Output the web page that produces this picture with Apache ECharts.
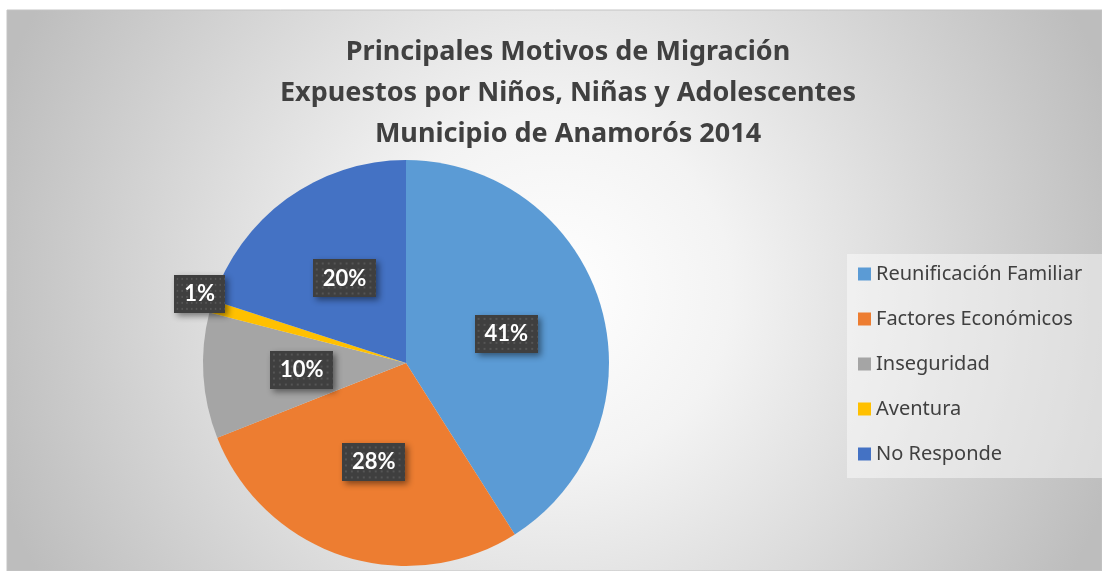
<!DOCTYPE html>
<html>
<head>
<meta charset="utf-8">
<script src="https://cdn.jsdelivr.net/npm/echarts@6/dist/echarts.min.js"></script>
<style>
  html, body { margin: 0; padding: 0; background: #fff; }
  #chart { width: 1102px; height: 571px; }
</style>
</head>
<body>
<div id="chart"></div>
<script>
const categories = ['Reunificación Familiar', 'Factores Económicos', 'Inseguridad', 'Aventura', 'No Responde'];
const values = [41, 28, 10, 1, 20];
const colors = ['#5B9BD5', '#ED7D31', '#A5A5A5', '#FFC000', '#4472C4'];
const titleText = 'Principales Motivos de Migración\nExpuestos por Niños, Niñas y Adolescentes\nMunicipio de Anamorós 2014';

// dotted dark texture for the data label boxes
function dotTexture() {
  const c = document.createElement('canvas');
  c.width = 64;
  c.height = 38;
  const ctx = c.getContext('2d');
  ctx.fillStyle = '#3f3f3f';
  ctx.fillRect(0, 0, 64, 38);
  ctx.fillStyle = '#555555';
  for (let y = 3; y < 38; y += 6) {
    for (let x = 3; x < 64; x += 6) {
      ctx.fillRect(x, y, 2, 2);
    }
  }
  return c.toDataURL();
}

const chart = echarts.init(document.getElementById('chart'));
const tex = dotTexture();

chart.setOption({
  animation: false,
  graphic: [
    {
      type: 'rect',
      z: -10,
      shape: { x: 7, y: 10, width: 1095, height: 561 },
      style: {
        fill: new echarts.graphic.RadialGradient(0.5, 0.5, 1.05, [
          { offset: 0, color: '#ffffff' },
          { offset: 0.3, color: '#f3f3f3' },
          { offset: 1, color: '#bdbdbd' }
        ]),
        stroke: '#c4c4c4',
        lineWidth: 1
      }
    },
    {
      type: 'rect',
      z: -5,
      shape: { x: 847, y: 254, width: 255, height: 224 },
      style: { fill: 'rgba(255,255,255,0.45)' }
    }
  ],
  title: {
    text: titleText,
    left: 563,
    top: 27,
    textAlign: 'center',
    textStyle: {
      fontFamily: 'Noto Sans',
      fontSize: 27,
      fontWeight: 'bold',
      lineHeight: 41,
      color: '#404040'
    }
  },
  legend: {
    orient: 'vertical',
    left: 858,
    top: 264,
    padding: 0,
    itemWidth: 13,
    itemHeight: 13,
    itemGap: 25,
    icon: 'rect',
    textStyle: {
      fontFamily: 'Noto Sans',
      fontSize: 20,
      lineHeight: 20,
      color: '#404040'
    },
    data: categories
  },
  series: [
    {
      type: 'pie',
      center: [406, 363],
      radius: 203,
      startAngle: 90,
      clockwise: true,
      avoidLabelOverlap: false,
      itemStyle: { borderWidth: 0 },
      label: {
        position: 'inside',
        formatter: '{d}%',
        fontFamily: 'Lato',
        fontSize: 22,
        fontWeight: 'bold',
        color: '#ffffff',
        backgroundColor: { image: tex },
        padding: [9, 10, 7, 10],
        shadowColor: 'rgba(0,0,0,0.45)',
        shadowBlur: 6,
        shadowOffsetX: 3,
        shadowOffsetY: 3
      },
      labelLine: { show: false },
      labelLayout: function (params) {
        // Aventura label sits at the rim as in the source
        if (params.dataIndex === 3) {
          return { dx: -106, dy: -40 };
        }
      },
      emphasis: { disabled: true },
      data: categories.map((name, i) => ({
        name: name,
        value: values[i],
        itemStyle: { color: colors[i] }
      }))
    }
  ]
});
</script>
</body>
</html>
